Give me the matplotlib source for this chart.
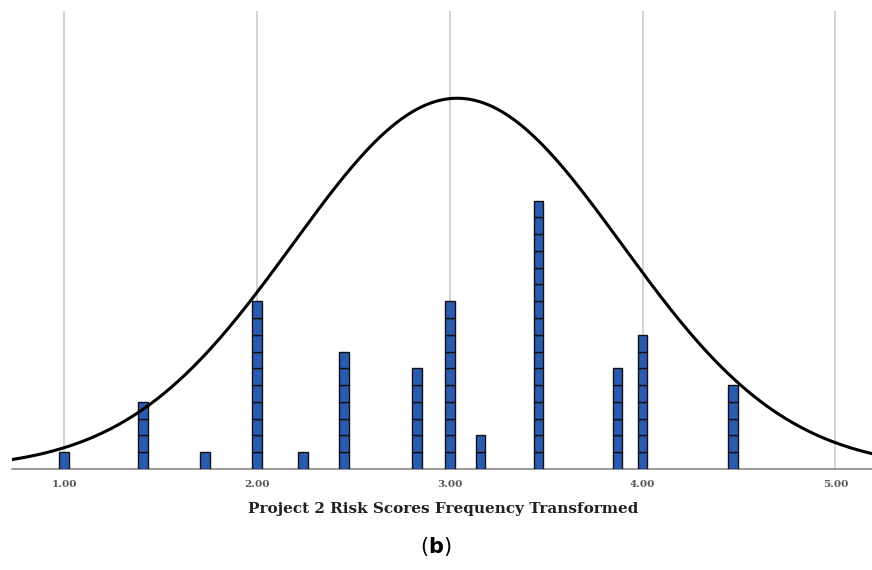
import numpy as np
import matplotlib
matplotlib.use("Agg")
import matplotlib.pyplot as plt

# transformed risk scores and how many projects sit on each value
scores = [1.00, 1.41, 1.73, 2.00, 2.24, 2.45, 2.83, 3.00, 3.16, 3.46, 3.87, 4.00, 4.47]
counts = [1, 4, 1, 10, 1, 7, 6, 10, 2, 16, 6, 8, 5]
tick_vals = [1.0, 2.0, 3.0, 4.0, 5.0]
tick_labels = ["1.00", "2.00", "3.00", "4.00", "5.00"]
curve_peak = 22.1  # height of the fitted normal curve at its mean

fig = plt.figure(figsize=(8.72, 5.70), dpi=100)
ax = fig.add_axes([0.0138, 0.1772, 0.9862, 0.8035])

# stacked unit blocks
for s, n in zip(scores, counts):
    ax.bar([s] * n, [1] * n, bottom=np.arange(n), width=0.05,
           color="#2a5bb0", edgecolor="#111111", linewidth=1.0, zorder=3)

# normal curve from the data
vals = np.repeat(scores, counts)
mu = vals.mean()
sd = vals.std(ddof=1)
xs = np.linspace(0.7, 5.25, 400)
ax.plot(xs, curve_peak * np.exp(-0.5 * ((xs - mu) / sd) ** 2),
        color="black", linewidth=2.2, zorder=4)

ax.set_xlim(0.73, 5.19)
ax.set_ylim(0, 27.3)
for t in tick_vals:
    ax.axvline(t, color="#cccccc", linewidth=1.2, zorder=1)

for sp in ["top", "right", "left"]:
    ax.spines[sp].set_visible(False)
ax.spines["bottom"].set_color("#888888")
ax.spines["bottom"].set_linewidth(1.2)
ax.set_yticks([])
ax.set_xticks(tick_vals)
ax.set_xticklabels(tick_labels, fontsize=7.5, family="DejaVu Serif",
                   fontweight="bold", color="#555555")
ax.tick_params(axis="x", length=0, pad=8)

fig.text(0.508, 0.107, "Project 2 Risk Scores Frequency Transformed",
         ha="center", va="center", fontsize=11, fontweight="bold",
         family="DejaVu Serif", color="#222222")
fig.text(0.5, 0.042, r"($\mathbf{b}$)", ha="center", va="center", fontsize=15,
         family="DejaVu Sans")

fig.savefig("out.png", dpi=100)
